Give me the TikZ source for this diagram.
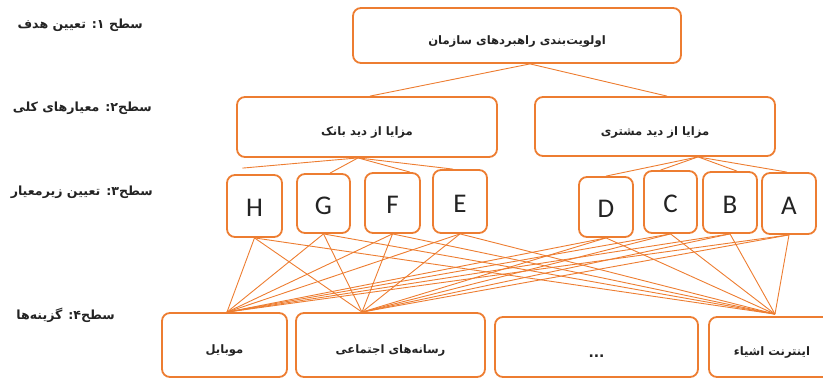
\documentclass[tikz,border=0pt]{standalone}
\usepackage{fontspec}
\setmainfont{Carlito}
\newfontfamily\fa[Script=Arabic]{DejaVu Sans}
\TeXXeTstate=1
\definecolor{org}{RGB}{237,125,49}
\definecolor{txt}{RGB}{35,35,35}
\newcommand\fatxt[1]{\raisebox{-8.5pt}[0pt][0pt]{\beginR #1\endR}}
\newcommand\lettxt[1]{\raisebox{-10.5pt}[0pt][0pt]{#1}}
\begin{document}
\begin{tikzpicture}[x=1pt,y=-1pt,
  box/.style={draw=org, line width=1.8pt, rounded corners=8pt, inner sep=0pt, text=txt},
  fatext/.style={font=\fa\bfseries\fontsize{11.6}{14}\selectfont},
  letter/.style={box, font=\fontsize{27}{30}\selectfont},
  link/.style={draw=org, line width=0.9pt},
  lvl/.style={anchor=east, text=txt, font=\fa\bfseries\fontsize{12.6}{15}\selectfont, inner sep=0pt}]
\useasboundingbox (0,0) rectangle (823,378);
\clip (0,0) rectangle (823,378);

% level labels
\node[lvl] (l1) at (143,25) {\beginR سطح ۱: تعیین هدف\endR};
\node[lvl] (l2) at (152,108) {\beginR سطح۲: معیارهای کلی\endR};
\node[lvl] (l3) at (153,192) {\beginR سطح۳: تعیین زیرمعیار\endR};
\node[lvl] (l4) at (115,315) {\beginR سطح۴: گزینه^^^^200cها\endR};

% level 1
\node[box, fatext, minimum width=328pt, minimum height=55pt] (top) at (517,35.5)
  {\fatxt{اولویت^^^^200cبندی راهبردهای سازمان}};
% level 2
\node[box, fatext, minimum width=260pt, minimum height=60pt] (bank) at (367,127)
  {\fatxt{مزایا از دید بانک}};
\node[box, fatext, minimum width=240pt, minimum height=59pt] (cust) at (655,126.5)
  {\fatxt{مزایا از دید مشتری}};
% level 3
\node[letter, minimum width=55pt, minimum height=62pt] (H) at (254.5,206) {\lettxt{H}};
\node[letter, minimum width=53pt, minimum height=59pt] (G) at (323.5,203.5) {\lettxt{G}};
\node[letter, minimum width=55pt, minimum height=60pt] (F) at (392.5,203) {\lettxt{F}};
\node[letter, minimum width=54pt, minimum height=63pt] (E) at (460,201.5) {\lettxt{E}};
\node[letter, minimum width=54pt, minimum height=60pt] (D) at (606,207) {\lettxt{D}};
\node[letter, minimum width=53pt, minimum height=62pt] (C) at (670.5,202) {\lettxt{C}};
\node[letter, minimum width=54pt, minimum height=61pt] (B) at (730,202.5) {\lettxt{B}};
\node[letter, minimum width=54pt, minimum height=61pt] (A) at (789,203.5) {\lettxt{A}};
% level 4
\node[box, fatext, minimum width=125pt, minimum height=64pt] (mob) at (224.5,345) {\fatxt{موبایل}};
\node[box, fatext, minimum width=189pt, minimum height=64pt] (soc) at (390.5,345) {\fatxt{رسانه^^^^200cهای اجتماعی}};
\node[box, fatext, minimum width=203pt, minimum height=60pt] (dots) at (596.5,347) {\raisebox{-10pt}[0pt][0pt]{\fontsize{14}{16}\selectfont ...}};
\node[box, fatext, minimum width=126pt, minimum height=60pt] (iot) at (772,347) {\fatxt{اینترنت اشیاء}};

% junction points
\coordinate (pTop) at ([xshift=13pt]top.south);
\coordinate (pBank) at ([xshift=-9pt]bank.south);
\coordinate (pCust) at ([xshift=43pt]cust.south);
\coordinate (pMob) at ([xshift=2.5pt]mob.north);
\coordinate (pSoc) at ([xshift=-28.5pt]soc.north);
\coordinate (pIot) at ([xshift=3pt,yshift=2pt]iot.north);

% level 1 -> 2
\draw[link] (pTop) -- ([xshift=3pt]bank.north);
\draw[link] (pTop) -- ([xshift=12pt]cust.north);
% level 2 -> 3
\draw[link] (pBank) -- ([xshift=-12pt,yshift=6pt]H.north);
\draw[link] (pBank) -- ([xshift=6.5pt]G.north);
\draw[link] (pBank) -- ([xshift=17.5pt]F.north);
\draw[link] (pBank) -- ([xshift=-7pt]E.north);
\draw[link] (pCust) -- (D.north);
\draw[link] (pCust) -- ([xshift=-10pt]C.north);
\draw[link] (pCust) -- ([xshift=7pt]B.north);
\draw[link] (pCust) -- ([xshift=-2pt]A.north);
% level 3 -> 4
\foreach \l in {H,G,F,E,D,C,B,A}{
  \draw[link] (\l.south) -- (pMob);
  \draw[link] (\l.south) -- (pSoc);
  \draw[link] (\l.south) -- (pIot);
}
\end{tikzpicture}
\end{document}
